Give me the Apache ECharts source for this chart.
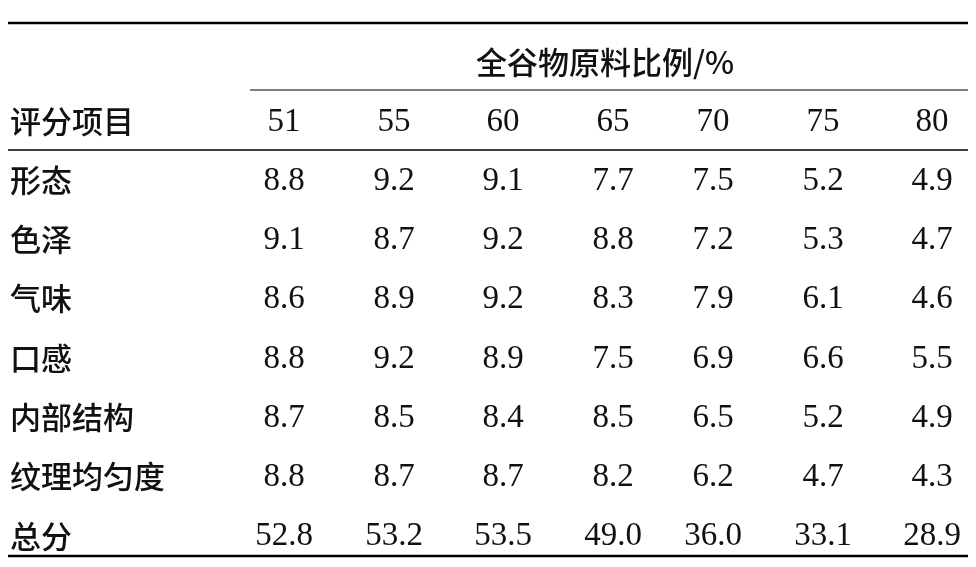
<!DOCTYPE html>
<html><head><meta charset="utf-8">
<script src="https://cdn.jsdelivr.net/npm/echarts@6/dist/echarts.min.js"></script>
<style>html,body{margin:0;padding:0;background:#fff}#c{width:976px;height:567px}</style>
</head><body><div id="c"></div>
<script>
const groupTitle = "全谷物原料比例/%";
const headerLabel = "评分项目";
const ratios = ["51","55","60","65","70","75","80"];
const items = ["形态","色泽","气味","口感","内部结构","纹理均匀度","总分"];
const 形态 = [8.8,9.2,9.1,7.7,7.5,5.2,4.9];
const 色泽 = [9.1,8.7,9.2,8.8,7.2,5.3,4.7];
const 气味 = [8.6,8.9,9.2,8.3,7.9,6.1,4.6];
const 口感 = [8.8,9.2,8.9,7.5,6.9,6.6,5.5];
const 内部结构 = [8.7,8.5,8.4,8.5,6.5,5.2,4.9];
const 纹理均匀度 = [8.8,8.7,8.7,8.2,6.2,4.7,4.3];
const 总分 = [52.8,53.2,53.5,49.0,36.0,33.1,28.9];
const rows = [形态,色泽,气味,口感,内部结构,纹理均匀度,总分];

const colX = [284,394,503,613,713,823,932];
const rowY0 = 180, rowStep = 59.3;
const cjk = '"Noto Sans CJK SC"', serif = '"Liberation Serif","DejaVu Serif",serif';
const els = [];
function line(x1,y,x2,w){els.push({type:'line',shape:{x1:x1,y1:y,x2:x2,y2:y},style:{stroke:'#000',lineWidth:w}});}
function text(t,x,y,font,size,align,weight){els.push({type:'text',x:x,y:y,style:{text:t,font:(weight||'normal')+' '+size+'px '+font,fill:'#111',align:align,verticalAlign:'middle'}});}
line(8,23,968,2.5); line(250,90,968,1.2); line(8,150,968,1.5); line(8,556,968,2.5);
text(groupTitle,605,62,cjk,31,'center','500');
text(headerLabel,10,121,cjk,31,'left','500');
ratios.forEach((r,i)=>text(r,colX[i],122,serif,33,'center'));
items.forEach((it,j)=>{
  const y=rowY0+j*rowStep;
  text(it,10,y,cjk,31,'left','500');
  rows[j].forEach((v,i)=>text(v.toFixed(1),colX[i],y+1,serif,33,'center'));
});
const chart = echarts.init(document.getElementById('c'));
chart.setOption({animation:false,backgroundColor:'#fff',graphic:{elements:els}});
</script></body></html>
